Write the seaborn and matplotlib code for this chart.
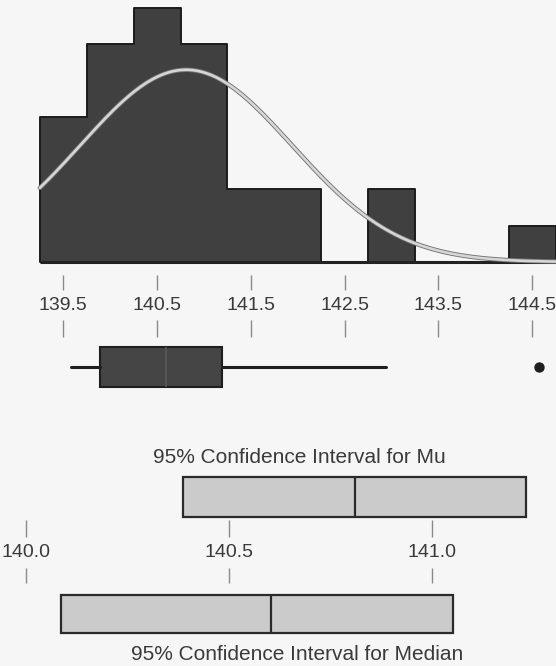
import numpy as np
import pandas as pd
import matplotlib
matplotlib.use("Agg")
import matplotlib.pyplot as plt
import seaborn as sns

# ---------------- data ----------------
bin_centers = [139.5, 140.0, 140.5, 141.0, 141.5, 142.0, 142.5, 143.0, 143.5, 144.0, 144.5]
counts = [4, 6, 7, 6, 2, 2, 0, 2, 0, 0, 1]
bin_width = 0.5
fit_mu = 140.81
fit_sigma = 1.13

hist_ticks = [139.5, 140.5, 141.5, 142.5, 143.5, 144.5]
hist_tick_labels = ["139.5", "140.5", "141.5", "142.5", "143.5", "144.5"]

box_whislo = 139.58
box_q1 = 139.89
box_median = 140.60
box_q3 = 141.19
box_whishi = 142.94
box_fliers = [144.57]

ci_ticks = [140.0, 140.5, 141.0]
ci_tick_labels = ["140.0", "140.5", "141.0"]
mu_ci = [140.386, 140.811, 141.232]        # low, mean, high
median_ci = [140.086, 140.603, 141.052]    # low, median, high
mu_title = "95% Confidence Interval for Mu"
median_title = "95% Confidence Interval for Median"

# ---------------- style ----------------
W, H = 556, 666
DPI = 100
sns.set_theme(style="white")
plt.rcParams["font.family"] = ["Liberation Sans", "DejaVu Sans"]
BG = "#f6f6f6"
TICK_C = "#8a8a8a"
TXT_C = "#3a3a3a"
PX = 72.0 / DPI  # points per pixel

fig = plt.figure(figsize=(W / DPI, H / DPI), dpi=DPI, facecolor=BG)


def rect(x0, y0, x1, y1):
    return [x0 / W, 1 - y1 / H, (x1 - x0) / W, (y1 - y0) / H]


def clean(ax):
    ax.set_facecolor("none")
    for s in ax.spines.values():
        s.set_visible(False)
    ax.set_ylabel("")
    ax.set_xlabel("")
    ax.set_yticks([])


# histogram scale: px = 63.3 + (v-139.5)*93.8
hx0 = 139.5 - 63.3 / 93.8
hx1 = 139.5 + (W - 63.3) / 93.8
unit = 36.3  # px per count

# ---------------- histogram ----------------
ax_h = fig.add_axes(rect(0, 0, W, 290))
clean(ax_h)
edges = [c - bin_width / 2 for c in bin_centers] + [bin_centers[-1] + bin_width / 2]
df = pd.DataFrame({"x": bin_centers, "w": counts})
sns.histplot(data=df, x="x", weights="w", bins=edges, ax=ax_h, element="step",
             fill=True, color="#404040", edgecolor="#1c1c1c", linewidth=1.4, alpha=1)
ax_h.hlines(0, edges[0], edges[-1], color="#222222", lw=2.2, zorder=3)

n = sum(counts)
xs = np.linspace(edges[0], edges[-1], 400)
ys = n * bin_width * np.exp(-0.5 * ((xs - fit_mu) / fit_sigma) ** 2) / (fit_sigma * np.sqrt(2 * np.pi))
curve = pd.DataFrame({"x": xs, "y": ys})
sns.lineplot(data=curve, x="x", y="y", ax=ax_h, color="#747474", lw=3.2, zorder=4)
sns.lineplot(data=curve, x="x", y="y", ax=ax_h, color="#d6d6d6", lw=1.9, zorder=5)
ax_h.set_xlim(hx0, hx1)
ax_h.set_ylim(-28 / unit, 262 / unit)
ax_h.set_xlabel("")
ax_h.set_ylabel("")
ax_h.set_yticks([])
ax_h.set_xticks(hist_ticks)
ax_h.set_xticklabels(hist_tick_labels)
ax_h.tick_params(axis="x", direction="in", length=15 * PX, width=1, color=TICK_C,
                 pad=7 * PX, labelsize=14, labelcolor=TXT_C, bottom=True)

# ---------------- boxplot ----------------
ax_b = fig.add_axes(rect(0, 320, W, 400))
clean(ax_b)
stats = [dict(whislo=box_whislo, q1=box_q1, med=box_median, q3=box_q3,
              whishi=box_whishi, fliers=box_fliers)]
ax_b.bxp(stats, positions=[0], widths=40, vert=False, patch_artist=True, showcaps=False,
         boxprops=dict(facecolor="#454545", edgecolor="#1e1e1e", linewidth=1.5),
         medianprops=dict(color="#5a5a5a", linewidth=1.2),
         whiskerprops=dict(color="#1e1e1e", linewidth=2.2),
         flierprops=dict(marker="o", markerfacecolor="#1e1e1e", markeredgecolor="#1e1e1e",
                         markersize=9 * PX))
ax_b.set_xlim(hx0, hx1)
ax_b.set_ylim(-32.7, 47.3)
ax_b.set_yticks([])
ax_b.set_xticks(hist_ticks)
ax_b.tick_params(axis="x", top=True, bottom=False, labeltop=False, labelbottom=False,
                 direction="in", length=17 * PX, width=1, color=TICK_C)

# ---------------- CI panels ----------------
# ci scale: px = 26 + (v-140)*405.7
cx0 = 140.0 - 26 / 405.7
cx1 = 140.0 + (W - 26) / 405.7

ax_m = fig.add_axes(rect(0, 470, W, 537))
clean(ax_m)
ax_m.barh(0, mu_ci[2] - mu_ci[0], left=mu_ci[0], height=40, color="#cbcbcb",
          edgecolor="#2a2a2a", linewidth=1.6)
ax_m.vlines(mu_ci[1], -20, 20, color="#2a2a2a", lw=1.6)
ax_m.set_xlim(cx0, cx1)
ax_m.set_ylim(-39.7, 27.3)
ax_m.set_xticks(ci_ticks)
ax_m.set_xticklabels(ci_tick_labels)
ax_m.tick_params(axis="x", direction="in", length=17 * PX, width=1, color=TICK_C,
                 pad=7 * PX, labelsize=14, labelcolor=TXT_C, bottom=True)

ax_d = fig.add_axes(rect(0, 568, W, 640))
clean(ax_d)
ax_d.barh(0, median_ci[2] - median_ci[0], left=median_ci[0], height=38, color="#cbcbcb",
          edgecolor="#2a2a2a", linewidth=1.6)
ax_d.vlines(median_ci[1], -19, 19, color="#2a2a2a", lw=1.6)
ax_d.set_xlim(cx0, cx1)
ax_d.set_ylim(-26.1, 45.9)
ax_d.set_xticks(ci_ticks)
ax_d.tick_params(axis="x", top=True, bottom=False, labeltop=False, labelbottom=False,
                 direction="in", length=15 * PX, width=1, color=TICK_C)

fig.text(299 / W, 1 - 463 / H, mu_title, ha="center", va="baseline",
         fontsize=15, color=TXT_C)
fig.text(297 / W, 1 - 660 / H, median_title, ha="center", va="baseline",
         fontsize=15, color=TXT_C)

fig.savefig("out.png", dpi=DPI, facecolor=BG)
